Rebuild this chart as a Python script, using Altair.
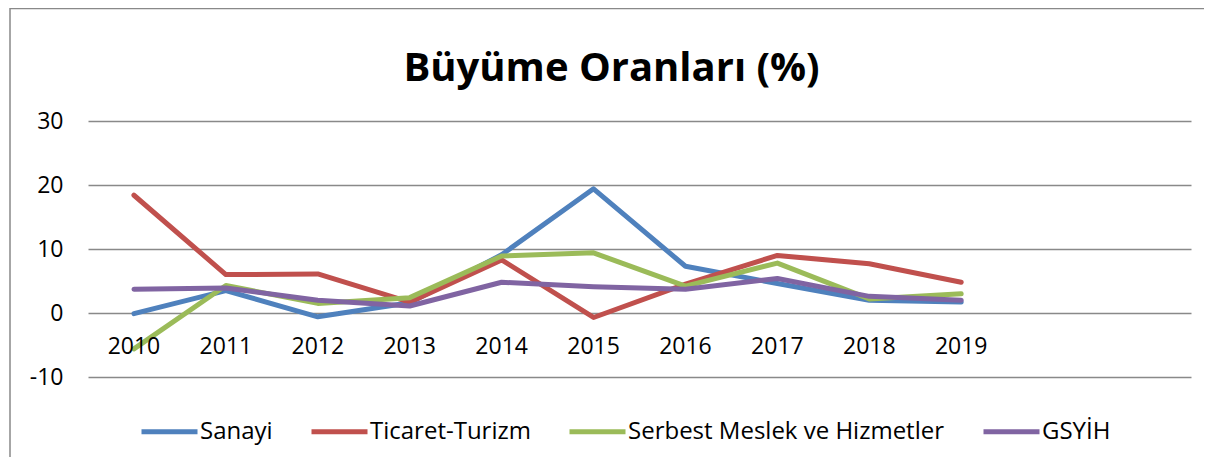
import altair as alt
import pandas as pd

years = [2010, 2011, 2012, 2013, 2014, 2015, 2016, 2017, 2018, 2019]
sanayi = [-0.1, 3.5, -0.6, 1.6, 9.1, 19.4, 7.3, 4.6, 2.0, 1.7]
ticaret = [18.4, 6.0, 6.1, 1.7, 8.3, -0.7, 4.5, 9.0, 7.7, 4.8]
serbest = [-5.6, 4.3, 1.5, 2.4, 8.9, 9.4, 4.2, 7.8, 2.2, 3.0]
gsyih = [3.7, 3.9, 2.0, 1.1, 4.8, 4.1, 3.7, 5.4, 2.6, 2.0]
series_names = ["Sanayi", "Ticaret-Turizm", "Serbest Meslek ve Hizmetler", "GSYİH"]
series_values = [sanayi, ticaret, serbest, gsyih]
colors = ["#4F81BD", "#C0504D", "#9BBB59", "#8064A2"]
y_ticks = [-10, 0, 10, 20, 30]
title_text = "Büyüme Oranları (%)"

rows = []
for name, vals in zip(series_names, series_values):
    for yr, v in zip(years, vals):
        rows.append({"year": yr, "value": v, "series": name})
df = pd.DataFrame(rows)
labels_df = pd.DataFrame({"year": years, "label": [str(y) for y in years]})

FONT = "Open Sans"
xscale = alt.Scale(domain=[2009.5, 2021.5], nice=False, zero=False)
yscale = alt.Scale(domain=[-10, 30], nice=False, zero=False)

lines = alt.Chart(df).mark_line(strokeWidth=5, strokeCap="round", strokeJoin="round").encode(
    x=alt.X("year:Q", scale=xscale, axis=None),
    y=alt.Y("value:Q", scale=yscale,
            axis=alt.Axis(values=y_ticks, grid=True, gridColor="#898989", gridWidth=1.5,
                          domain=False, ticks=False, labelFontSize=23, labelFont=FONT,
                          labelColor="#000000", labelPadding=25, title=None,
                          labelExpr="toString(datum.value)")),
    color=alt.Color("series:N",
                    scale=alt.Scale(domain=series_names, range=colors),
                    sort=series_names,
                    legend=alt.Legend(title=None, orient="none", direction="horizontal",
                                      legendX=51, legendY=280,
                                      symbolType="stroke", symbolSize=3136,
                                      symbolStrokeWidth=5, labelFontSize=24,
                                      labelFont=FONT, labelColor="#000000",
                                      labelOffset=0, columnPadding=28, labelLimit=0)),
)

xlabels = alt.Chart(labels_df).mark_text(fontSize=23, font=FONT, color="#000000",
                                         baseline="middle", align="center", dy=34).encode(
    x=alt.X("year:Q", scale=xscale),
    y=alt.datum(0),
    text="label:N",
)

frame = alt.Chart(pd.DataFrame({"k": [0]})).mark_rect(
    fillOpacity=0, stroke="#898989", strokeWidth=1.5, clip=False
).encode(x=alt.value(-78), x2=alt.value(1200), y=alt.value(-112.5), y2=alt.value(420))

title = alt.Chart(pd.DataFrame({"t": [title_text]})).mark_text(
    font=FONT, fontSize=40, fontWeight="bold", color="#000000",
    align="center", baseline="alphabetic", clip=False
).encode(x=alt.value(523.5), y=alt.value(-40), text="t:N")

chart = alt.layer(frame, lines, xlabels, title).properties(
    width=1103, height=256,
    padding={"left": 80, "top": 113, "right": 13, "bottom": 80},
    autosize=alt.AutoSizeParams(type="none"),
).configure_view(stroke=None)

chart.save("out.html", embed_options={"renderer": "svg", "actions": False})
